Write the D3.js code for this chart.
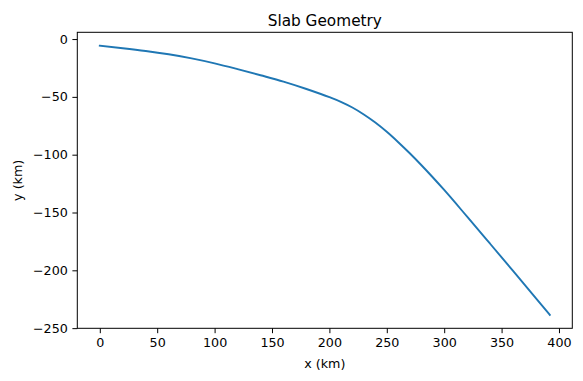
<!DOCTYPE html>
<html>
<head>
<meta charset="utf-8">
<script src="https://cdn.jsdelivr.net/npm/d3@7"></script>
<style>
  html, body { margin: 0; padding: 0; background: #fff; }
  svg { display: block; }
  text { font-family: "DejaVu Sans", sans-serif; fill: #000; }
</style>
</head>
<body>
<svg id="chart" width="583" height="381"></svg>
<script>
// Data
const xKm = [0, 20, 40, 60, 80, 100, 120, 140, 160, 180, 200, 210, 220, 230, 240, 250, 260, 270, 280, 290, 300, 320, 340, 360, 380, 392];
const yKm = [-5.8, -7.9, -10.3, -13.2, -16.7, -21.0, -26.0, -31.3, -36.8, -43.2, -50.3, -54.3, -59.2, -65.2, -72.2, -80.2, -89.2, -98.8, -108.9, -119.5, -130.5, -153.6, -177.0, -200.5, -224.2, -238.5];
const xTicks = [0, 50, 100, 150, 200, 250, 300, 350, 400];
const yTicks = [0, -50, -100, -150, -200, -250];
const titleText = "Slab Geometry";
const xLabel = "x (km)";
const yLabel = "y (km)";

const W = 583, H = 381;
const m = { left: 77.3, right: 572.3, top: 32.3, bottom: 328.3 };
const svg = d3.select("#chart");

// matplotlib-like 5% margins
const xmin = d3.min(xKm), xmax = d3.max(xKm);
const ymin = d3.min(yKm), ymax = d3.max(yKm);
const xr = xmax - xmin, yr = ymax - ymin;
const x = d3.scaleLinear().domain([xmin - 0.05 * xr, xmax + 0.05 * xr]).range([m.left, m.right]);
const y = d3.scaleLinear().domain([ymin - 0.05 * yr, ymax + 0.05 * yr]).range([m.bottom, m.top]);

const fmt = d => (d < 0 ? "\u2212" + Math.abs(d) : String(d));
const tickLen = 4.9, tickPad = 4.6, fs = 12.7;

const xAxis = svg.append("g")
  .attr("transform", `translate(0,${m.bottom})`)
  .call(d3.axisBottom(x).tickValues(xTicks).tickFormat(fmt).tickSize(tickLen).tickPadding(tickPad));
const yAxis = svg.append("g")
  .attr("transform", `translate(${m.left},0)`)
  .call(d3.axisLeft(y).tickValues(yTicks).tickFormat(fmt).tickSize(tickLen).tickPadding(tickPad));

[xAxis, yAxis].forEach(g => {
  g.select(".domain").remove();
  g.selectAll(".tick line").attr("stroke", "#000").attr("stroke-width", 1);
  g.selectAll(".tick text").attr("font-size", fs).attr("font-family", "DejaVu Sans").attr("fill", "#000");
});

// line
const line = d3.line().x((d, i) => x(xKm[i])).y((d, i) => y(yKm[i])).curve(d3.curveMonotoneX);
svg.append("path")
  .datum(yKm)
  .attr("d", line)
  .attr("fill", "none")
  .attr("stroke", "#1f77b4")
  .attr("stroke-width", 1.9)
  .attr("stroke-linecap", "square")
  .attr("stroke-linejoin", "round");

// frame
svg.append("rect")
  .attr("x", m.left).attr("y", m.top)
  .attr("width", m.right - m.left).attr("height", m.bottom - m.top)
  .attr("fill", "none").attr("stroke", "#000").attr("stroke-width", 1);

// title
svg.append("text")
  .attr("x", (m.left + m.right) / 2).attr("y", 26.3)
  .attr("text-anchor", "middle").attr("font-size", 15.3)
  .text(titleText);

// axis labels
svg.append("text")
  .attr("x", (m.left + m.right) / 2).attr("y", 367.5)
  .attr("text-anchor", "middle").attr("font-size", fs)
  .text(xLabel);
svg.append("text")
  .attr("transform", `translate(21.5,${(m.top + m.bottom) / 2}) rotate(-90)`)
  .attr("text-anchor", "middle").attr("font-size", fs)
  .text(yLabel);
</script>
</body>
</html>
